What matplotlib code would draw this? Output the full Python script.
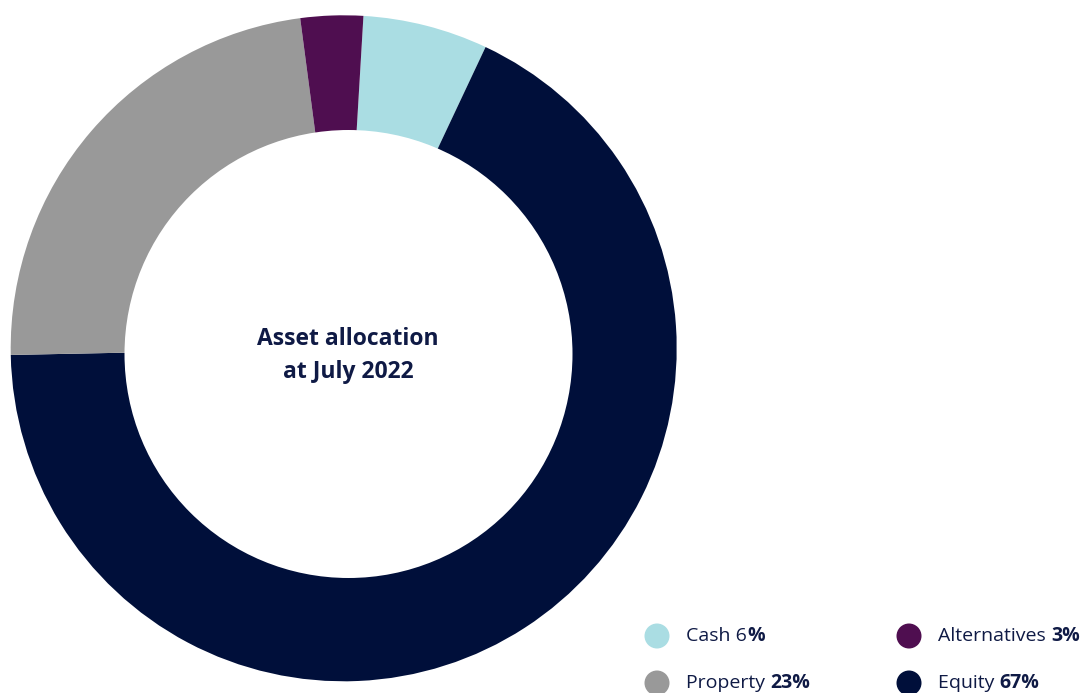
import matplotlib
matplotlib.use("Agg")
import matplotlib.pyplot as plt
from matplotlib.patches import Circle

# data, clockwise from the top
labels = ["Cash", "Equity", "Property", "Alternatives"]
values = [6, 67, 23, 3]
colors = ["#aadde3", "#000f3a", "#999999", "#4f0e50"]

# legend order (two columns) and how each entry is split regular/bold
legend_rows = [
    ("Cash 6", "%", "#aadde3", 0, 0),
    ("Alternatives ", "3%", "#4f0e50", 1, 0),
    ("Property ", "23%", "#999999", 0, 1),
    ("Equity ", "67%", "#000f3a", 1, 1),
]

text_col = "#0f1a45"
plt.rcParams["font.family"] = ["Open Sans", "DejaVu Sans"]

W, H = 1083, 693
fig = plt.figure(figsize=(W / 100, H / 100), dpi=100)

# donut, outer center ~ (343.7, 348.3) px, radius ~ 333 px
cx, cy, r = 343.7, 348.3, 333
ax = fig.add_axes([(cx - r) / W, (H - cy - r) / H, 2 * r / W, 2 * r / H])
ax.pie(values, colors=colors, startangle=86.6, counterclock=False,
       radius=1, wedgeprops=dict(linewidth=0))
# the hole sits a little off-centre in the original
hole_x, hole_y, hole_r = 348.5, 354, 224
ax.add_patch(Circle(((hole_x - cx) / r, -(hole_y - cy) / r), hole_r / r,
                    color="white", lw=0, zorder=3))
ax.set_xlim(-1, 1)
ax.set_ylim(-1, 1)
ax.set_aspect("equal")
ax.axis("off")

ax.text((348 - cx) / r, -(355.5 - cy) / r, "Asset allocation\nat July 2022",
        ha="center", va="center", fontsize=16.5, fontweight="bold",
        color=text_col, linespacing=1.45, zorder=4)

# legend drawn by hand in figure pixels
lax = fig.add_axes([0, 0, 1, 1])
lax.set_xlim(0, W)
lax.set_ylim(H, 0)
lax.axis("off")
renderer = fig.canvas.get_renderer()
col_x = [657, 909]
row_y = [636, 683]
for regular, bold, c, ci, ri in legend_rows:
    x, y = col_x[ci], row_y[ri]
    lax.add_patch(Circle((x, y), 12.5, color=c, lw=0))
    t = lax.text(x + 29, y, regular, ha="left", va="center", fontsize=14,
                 color=text_col)
    bb = t.get_window_extent(renderer=renderer)
    lax.text(x + 29 + bb.width, y, bold, ha="left", va="center", fontsize=14,
             fontweight="bold", color=text_col)

fig.savefig("out.png", dpi=100)
